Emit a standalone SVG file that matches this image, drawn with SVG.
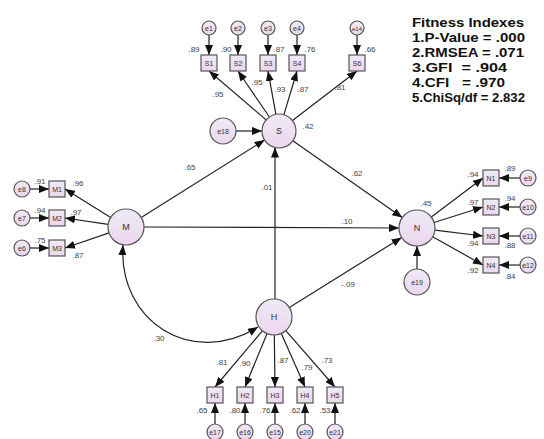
<svg xmlns="http://www.w3.org/2000/svg" width="544" height="439" viewBox="0 0 544 439">
<defs>
<linearGradient id="g" x1="0" y1="0" x2="0" y2="1">
<stop offset="0" stop-color="#efeaf6"/>
<stop offset="1" stop-color="#ecd6ee"/>
</linearGradient>
<marker id="ah" viewBox="0 0 10 8" refX="10" refY="4" markerWidth="10" markerHeight="8" markerUnits="userSpaceOnUse" orient="auto-start-reverse">
<path d="M0,0 L10,4 L0,8 Z" fill="#111"/>
</marker>
<style>
.c{fill:url(#g);stroke:#555;stroke-width:1.2}
.b{fill:url(#g);stroke:#555;stroke-width:1.2}
.l{stroke:#222;stroke-width:1.2;fill:none;marker-end:url(#ah)}
.t{font-family:"Liberation Sans",Arial,sans-serif;fill:#333;text-anchor:middle}
.n{font-size:9px}
.e{font-size:7px}
.v{font-family:"Liberation Sans",Arial,sans-serif;fill:#444;font-size:8px;text-anchor:middle}
.f{font-family:"Liberation Sans",Arial,sans-serif;font-weight:bold;font-size:13px;fill:#111}
</style>
</defs>
<rect width="544" height="439" fill="#fff"/>

<g id="connectors">
<!-- S indicators -->
<line class="l" x1="266.1" y1="119.9" x2="209" y2="71"/>
<line class="l" x1="269.4" y1="117" x2="238" y2="71"/>
<line class="l" x1="275.9" y1="114.3" x2="268" y2="71"/>
<line class="l" x1="283.9" y1="114.7" x2="297" y2="71"/>
<line class="l" x1="292.5" y1="120.6" x2="357" y2="71"/>
<line class="l" x1="209" y1="35" x2="209" y2="55"/>
<line class="l" x1="238" y1="35" x2="238" y2="55"/>
<line class="l" x1="268" y1="35" x2="268" y2="55"/>
<line class="l" x1="297" y1="35" x2="297" y2="55"/>
<line class="l" x1="357" y1="35" x2="357" y2="55"/>
<!-- M indicators -->
<line class="l" x1="110.7" y1="217.5" x2="65" y2="189"/>
<line class="l" x1="108.2" y1="224.4" x2="65" y2="218"/>
<line class="l" x1="109" y1="232.9" x2="65" y2="248"/>
<line class="l" x1="30" y1="189" x2="49" y2="189"/>
<line class="l" x1="30" y1="218" x2="49" y2="218"/>
<line class="l" x1="30" y1="248" x2="49" y2="248"/>
<!-- N indicators -->
<line class="l" x1="431.3" y1="217.1" x2="483" y2="178"/>
<line class="l" x1="434.1" y1="222.5" x2="483" y2="207"/>
<line class="l" x1="434.9" y1="230.2" x2="483" y2="236"/>
<line class="l" x1="432.7" y1="236.8" x2="483" y2="265"/>
<line class="l" x1="520" y1="178" x2="499" y2="178"/>
<line class="l" x1="520" y1="207" x2="499" y2="207"/>
<line class="l" x1="520" y1="236" x2="499" y2="236"/>
<line class="l" x1="520" y1="265" x2="499" y2="265"/>
<!-- H indicators -->
<line class="l" x1="262.4" y1="330.8" x2="215" y2="387"/>
<line class="l" x1="267.1" y1="333.6" x2="245" y2="387"/>
<line class="l" x1="274.3" y1="335" x2="275" y2="387"/>
<line class="l" x1="281.3" y1="333.4" x2="305" y2="387"/>
<line class="l" x1="285.8" y1="330.6" x2="335" y2="387"/>
<line class="l" x1="215" y1="424" x2="215" y2="403"/>
<line class="l" x1="245" y1="424" x2="245" y2="403"/>
<line class="l" x1="275" y1="424" x2="275" y2="403"/>
<line class="l" x1="305" y1="424" x2="305" y2="403"/>
<line class="l" x1="335" y1="424" x2="335" y2="403"/>
<!-- structural -->
<line class="l" x1="236" y1="131" x2="262" y2="131"/>
<line class="l" x1="417" y1="269" x2="417" y2="246"/>
<line class="l" x1="141.2" y1="217.4" x2="264.6" y2="140"/>
<line class="l" x1="144" y1="227" x2="399" y2="228"/>
<line class="l" x1="275" y1="299" x2="275" y2="147.5"/>
<line class="l" x1="289.3" y1="307.5" x2="401.7" y2="237.5"/>
<line class="l" x1="292.9" y1="140.8" x2="402.3" y2="217.6"/>
<path class="l" style="marker-start:url(#ah)" d="M123,245 C118,322 192,368 258,327"/>
</g>

<g id="S"><circle class="c" cx="279" cy="131" r="17"/><text class="t n" x="279" y="134">S</text></g>
<g id="M"><circle class="c" cx="126" cy="227" r="18"/><text class="t n" x="126" y="230">M</text></g>
<g id="N"><circle class="c" cx="417" cy="228" r="18"/><text class="t n" x="417" y="231">N</text></g>
<g id="H"><circle class="c" cx="274" cy="317" r="18"/><text class="t n" x="274" y="320">H</text></g>
<g id="e18"><circle class="c" cx="223" cy="131" r="13"/><text class="t e" x="223" y="133.5">e18</text></g>
<g id="e19"><circle class="c" cx="417" cy="282" r="13"/><text class="t e" x="417" y="284.5">e19</text></g>

<g id="S1"><rect class="b" x="201" y="55" width="16" height="16"/><text class="t e" x="209" y="65.5">S1</text></g>
<g id="S2"><rect class="b" x="230" y="55" width="16" height="16"/><text class="t e" x="238" y="65.5">S2</text></g>
<g id="S3"><rect class="b" x="260" y="55" width="16" height="16"/><text class="t e" x="268" y="65.5">S3</text></g>
<g id="S4"><rect class="b" x="289" y="55" width="16" height="16"/><text class="t e" x="297" y="65.5">S4</text></g>
<g id="S6"><rect class="b" x="349" y="55" width="16" height="16"/><text class="t e" x="357" y="65.5">S6</text></g>
<g id="e1"><circle class="c" cx="209" cy="28" r="7"/><text class="t e" x="209" y="30.5">e1</text></g>
<g id="e2"><circle class="c" cx="238" cy="28" r="7"/><text class="t e" x="238" y="30.5">e2</text></g>
<g id="e3"><circle class="c" cx="268" cy="28" r="7"/><text class="t e" x="268" y="30.5">e3</text></g>
<g id="e4"><circle class="c" cx="297" cy="28" r="7"/><text class="t e" x="297" y="30.5">e4</text></g>
<g id="e14"><circle class="c" cx="357" cy="28" r="7"/><text class="t e" x="357" y="30.5" style="font-size:6px">e14</text></g>

<g id="M1"><rect class="b" x="49" y="181" width="16" height="16"/><text class="t e" x="57" y="191.5">M1</text></g>
<g id="M2"><rect class="b" x="49" y="210" width="16" height="16"/><text class="t e" x="57" y="220.5">M2</text></g>
<g id="M3"><rect class="b" x="49" y="240" width="16" height="16"/><text class="t e" x="57" y="250.5">M3</text></g>
<g id="e8"><circle class="c" cx="22" cy="189" r="8"/><text class="t e" x="22" y="191.5">e8</text></g>
<g id="e7"><circle class="c" cx="22" cy="218" r="8"/><text class="t e" x="22" y="220.5">e7</text></g>
<g id="e6"><circle class="c" cx="22" cy="248" r="8"/><text class="t e" x="22" y="250.5">e6</text></g>

<g id="N1"><rect class="b" x="483" y="170" width="16" height="16"/><text class="t e" x="491" y="180.5">N1</text></g>
<g id="N2"><rect class="b" x="483" y="199" width="16" height="16"/><text class="t e" x="491" y="209.5">N2</text></g>
<g id="N3"><rect class="b" x="483" y="228" width="16" height="16"/><text class="t e" x="491" y="238.5">N3</text></g>
<g id="N4"><rect class="b" x="483" y="257" width="16" height="16"/><text class="t e" x="491" y="267.5">N4</text></g>
<g id="e9"><circle class="c" cx="528" cy="178" r="8"/><text class="t e" x="528" y="180.5">e9</text></g>
<g id="e10"><circle class="c" cx="528" cy="207" r="8"/><text class="t e" x="528" y="209.5">e10</text></g>
<g id="e11"><circle class="c" cx="528" cy="236" r="8"/><text class="t e" x="528" y="238.5">e11</text></g>
<g id="e12"><circle class="c" cx="528" cy="265" r="8"/><text class="t e" x="528" y="267.5">e12</text></g>

<g id="H1"><rect class="b" x="207" y="387" width="16" height="16"/><text class="t e" x="215" y="397.5">H1</text></g>
<g id="H2"><rect class="b" x="237" y="387" width="16" height="16"/><text class="t e" x="245" y="397.5">H2</text></g>
<g id="H3"><rect class="b" x="267" y="387" width="16" height="16"/><text class="t e" x="275" y="397.5">H3</text></g>
<g id="H4"><rect class="b" x="297" y="387" width="16" height="16"/><text class="t e" x="305" y="397.5">H4</text></g>
<g id="H5"><rect class="b" x="327" y="387" width="16" height="16"/><text class="t e" x="335" y="397.5">H5</text></g>
<g id="e17"><circle class="c" cx="215" cy="432" r="8"/><text class="t e" x="215" y="434.5">e17</text></g>
<g id="e16"><circle class="c" cx="245" cy="432" r="8"/><text class="t e" x="245" y="434.5">e16</text></g>
<g id="e15"><circle class="c" cx="275" cy="432" r="8"/><text class="t e" x="275" y="434.5">e15</text></g>
<g id="e20"><circle class="c" cx="305" cy="432" r="8"/><text class="t e" x="305" y="434.5">e20</text></g>
<g id="e21"><circle class="c" cx="335" cy="432" r="8"/><text class="t e" x="335" y="434.5">e21</text></g>

<g id="values">
<text class="v" x="194" y="52">.89</text>
<text class="v" x="226" y="52">.90</text>
<text class="v" x="279" y="52">.87</text>
<text class="v" x="310" y="52">.76</text>
<text class="v" x="370" y="52">.66</text>
<text class="v" x="218" y="97">.95</text>
<text class="v" x="257" y="85">.95</text>
<text class="v" x="280" y="92">.93</text>
<text class="v" x="303" y="92">.87</text>
<text class="v" x="340" y="90">.81</text>
<text class="v" x="308" y="129">.42</text>
<text class="v" x="40" y="184">.91</text>
<text class="v" x="40" y="213">.94</text>
<text class="v" x="40" y="243">.75</text>
<text class="v" x="78" y="186">.96</text>
<text class="v" x="76" y="215">.97</text>
<text class="v" x="78" y="258">.87</text>
<text class="v" x="473" y="177">.94</text>
<text class="v" x="473" y="205">.97</text>
<text class="v" x="473" y="246">.94</text>
<text class="v" x="473" y="273">.92</text>
<text class="v" x="510" y="171">.89</text>
<text class="v" x="510" y="201">.94</text>
<text class="v" x="510" y="248">.88</text>
<text class="v" x="510" y="279">.84</text>
<text class="v" x="426" y="206">.45</text>
<text class="v" x="190" y="170">.65</text>
<text class="v" x="267" y="190">.01</text>
<text class="v" x="357" y="176">.62</text>
<text class="v" x="347" y="224">.10</text>
<text class="v" x="348" y="287">-.09</text>
<text class="v" x="159" y="341">.30</text>
<text class="v" x="222" y="365">.81</text>
<text class="v" x="245" y="366">.90</text>
<text class="v" x="283" y="363">.87</text>
<text class="v" x="307" y="370">.79</text>
<text class="v" x="327" y="363">.73</text>
<text class="v" x="202" y="413">.65</text>
<text class="v" x="235" y="413">.80</text>
<text class="v" x="265" y="413">.76</text>
<text class="v" x="295" y="413">.62</text>
<text class="v" x="325" y="413">.53</text>
</g>

<g id="fit">
<text class="f" x="412" y="27" textLength="112" lengthAdjust="spacingAndGlyphs">Fitness Indexes</text>
<text class="f" x="412" y="42" textLength="113" lengthAdjust="spacingAndGlyphs">1.P-Value = .000</text>
<text class="f" x="412" y="57" textLength="112" lengthAdjust="spacingAndGlyphs">2.RMSEA = .071</text>
<text class="f" x="412" y="72" textLength="95" lengthAdjust="spacingAndGlyphs" xml:space="preserve">3.GFI  = .904</text>
<text class="f" x="412" y="87" textLength="93" lengthAdjust="spacingAndGlyphs" xml:space="preserve">4.CFI   = .970</text>
<text class="f" x="412" y="102" textLength="113" lengthAdjust="spacingAndGlyphs">5.ChiSq/df = 2.832</text>
</g>
</svg>
